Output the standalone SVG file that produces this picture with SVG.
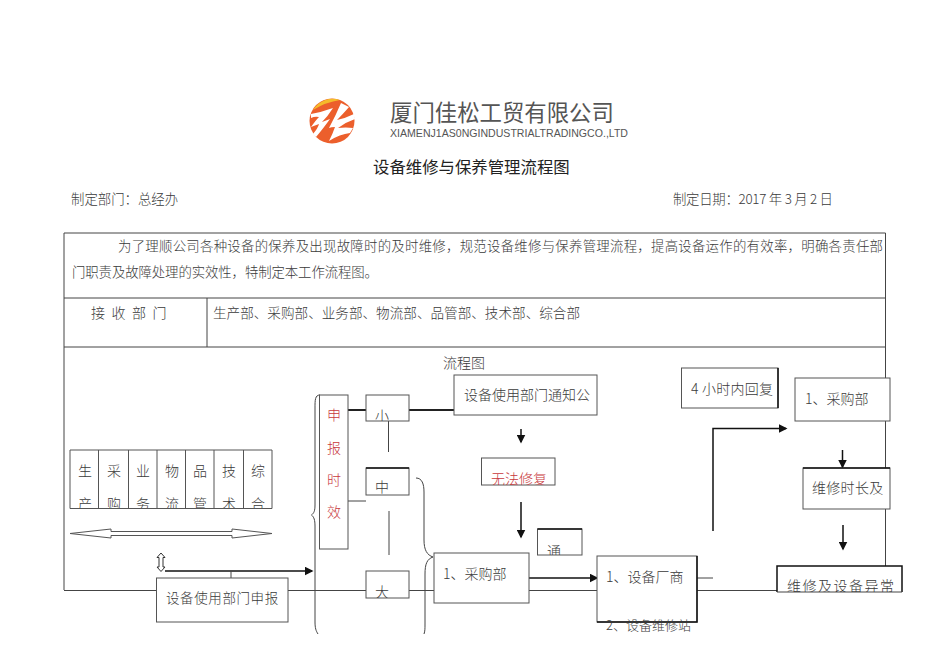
<svg xmlns="http://www.w3.org/2000/svg" width="950" height="672" viewBox="0 0 950 672">
<style>
text{font-family:"Noto Sans CJK SC","Liberation Sans",sans-serif;font-size:14px;fill:#3a3a3a;font-weight:300}
.r{fill:#c8383c}
.c{text-anchor:middle}
.b{fill:#fff;stroke:#555;stroke-width:1}
.l{fill:none;stroke:#444;stroke-width:1}
.k{fill:none;stroke:#111;stroke-width:1.5}
.t{fill:none;stroke:#222;stroke-width:2}
</style>
<defs>
<marker id="a" markerWidth="6" markerHeight="6" refX="5" refY="3" orient="auto"><path d="M0 0L6 3L0 6Z" fill="#111"/></marker>
<clipPath id="c1"><rect x="70" y="450" width="202" height="58"/></clipPath>
<clipPath id="c2"><rect x="366" y="395" width="43" height="26"/></clipPath>
<clipPath id="c3"><rect x="366" y="571" width="43" height="27"/></clipPath>
<clipPath id="c4"><rect x="481" y="458" width="74" height="27"/></clipPath>
<clipPath id="c5"><rect x="537" y="529" width="45" height="26"/></clipPath>
<clipPath id="c6"><rect x="777" y="566" width="125" height="26"/></clipPath>
</defs>
<rect width="950" height="672" fill="#fff"/>
<g id="logo">
<circle cx="332" cy="121" r="22.500" fill="#ec5f2c"/>
<path d="M313 110A23 23 0 0 1 340 100Q326 102 313 110Z" fill="#f5bb2a"/>
<path d="M311 114Q322 112 333 108Q328 116 322 122L330 119Q322 130 316 137L313 134Q318 128 319 124L311 127Q316 120 319 117Q315 116 311 118Z" fill="#fff"/>
<path d="M341 103L349 107Q342 115 337 120Q346 118 354 114L355 119Q346 122 338 128Q346 127 353 128L350 133Q340 134 329 141Q333 133 335 127Q331 127 329 128Q336 115 341 103Z" fill="#fff"/>
</g>
<g id="header">
<text x="390" y="121" style="font-size:22.400px;fill:#555;font-weight:400">厦门佳松工贸有限公司</text>
<text x="390" y="137" textLength="238" lengthAdjust="spacingAndGlyphs" style="font-family:'Liberation Sans',sans-serif;font-size:10.500px;fill:#555;font-weight:400">XIAMENJ1AS0NGINDUSTRIALTRADINGCO.,LTD</text>
<text x="373" y="173" style="font-size:16.400px;font-weight:400;fill:#222">设备维修与保养管理流程图</text>
<text x="71" y="204" style="font-size:13.400px">制定部门&#65306;总经办</text>
<text x="673" y="204" textLength="160" style="font-size:13.400px">制定日期&#65306;2017 年 3 月 2 日</text>
</g>
<g id="table">
<path class="l" d="M64 590V233H885.500V566M64 298H885.500M64 347H885.500M207 298V347M64 590.500H156M288 590.500H366M409 590.500H434M529 590.500H597M697 590.500H777"/>
<text x="118" y="251" textLength="765" style="font-size:13.400px">为了理顺公司各种设备的保养及出现故障时的及时维修&#65292;规范设备维修与保养管理流程&#65292;提高设备运作的有效率&#65292;明确各责任部</text>
<text x="72" y="277" textLength="306" style="font-size:13.400px">门职责及故障处理的实效性&#65292;特制定本工作流程图。</text>
<text x="91" y="318" letter-spacing="6.500">接收部门</text>
<text x="213" y="318" textLength="367" style="font-size:13.600px">生产部、采购部、业务部、物流部、品管部、技术部、综合部</text>
<text x="443" y="368">流程图</text>
</g>
<g id="departments">
<path class="b" d="M70 450H272V508.500H70ZM98.500 450V508.500M128.500 450V508.500M157 450V508.500M185.500 450V508.500M214 450V508.500M243.500 450V508.500"/>
<g clip-path="url(#c1)">
<text x="85" y="476" class="c">生</text><text x="85" y="509" class="c">产</text>
<text x="114" y="476" class="c">采</text><text x="114" y="509" class="c">购</text>
<text x="143" y="476" class="c">业</text><text x="143" y="509" class="c">务</text>
<text x="172" y="476" class="c">物</text><text x="172" y="509" class="c">流</text>
<text x="200" y="476" class="c">品</text><text x="200" y="509" class="c">管</text>
<text x="229" y="476" class="c">技</text><text x="229" y="509" class="c">术</text>
<text x="258" y="476" class="c">综</text><text x="258" y="509" class="c">合</text>
</g>
</g>
<g id="connectors">
<path d="M70 533.500L111 529V531.500H232V529L272 533.500L232 538V535.500H111V538Z" fill="#fff" stroke="#555"/>
<path d="M161 553L165 557.500H163V567H165L161 571.500L157 567H159V557.500H157Z" fill="#fff" stroke="#333"/>
<path class="k" d="M165 571H312" marker-end="url(#a)"/>
<path class="l" d="M231 571V578"/>
<path class="l" d="M320 395C315 395 315 400 315 408V505C315 511 314 513 311.500 515C314 517 315 520 315 526V622C315 628 316 631 318 634"/>
<path class="t" d="M348 410H366M409 410H454"/>
<path class="l" d="M388.500 421V452M348 501H366M389 511V555"/>
<path class="l" d="M416 478C422 478 424 484 424 492V540C424 550 427 555 433 557C427 559 425 564 425 574V624C425 629 425 631 424 634"/>
<path class="k" d="M521 429V442" marker-end="url(#a)"/>
<path class="k" d="M521 502V537" marker-end="url(#a)"/>
<path class="k" d="M529 578H597" marker-end="url(#a)"/>
<path class="l" d="M697 578H713"/>
<path class="k" d="M713 531V428.500H786" marker-end="url(#a)"/>
<path class="k" d="M842.500 450V467" marker-end="url(#a)"/>
<path class="k" d="M843 525V549" marker-end="url(#a)"/>
</g>
<g id="n-report"><rect class="b" x="156.500" y="578" width="131.500" height="44"/><text x="166" y="603" style="font-size:13.500px" letter-spacing="0.600">设备使用部门申报</text></g>
<g id="n-timing"><rect class="b" x="319.500" y="395" width="28.500" height="154"/>
<text class="r c" x="334" y="420">申</text><text class="r c" x="334" y="453">报</text><text class="r c" x="334" y="485">时</text><text class="r c" x="334" y="517">效</text></g>
<g id="n-small"><rect class="b" x="366" y="395" width="43" height="26"/><text class="c" x="382" y="421" clip-path="url(#c2)">小</text></g>
<g id="n-medium"><rect class="b" x="366" y="468" width="43" height="27"/><path class="k" d="M366 468H409"/><text class="c" x="382" y="492">中</text></g>
<g id="n-large"><rect class="b" x="366" y="571" width="43" height="27"/><text class="c" x="382" y="597" clip-path="url(#c3)">大</text></g>
<g id="n-notify"><rect class="b" x="454" y="375" width="143" height="40"/><text x="464" y="400">设备使用部门通知公</text></g>
<g id="n-unfixable"><rect class="b" x="481.500" y="458" width="73.500" height="27"/><text class="r" x="491" y="484" clip-path="url(#c4)">无法修复</text></g>
<g id="n-tong"><rect class="b" x="537.500" y="529" width="44.500" height="26"/><path class="k" d="M537.500 529H582"/><text x="547" y="556" clip-path="url(#c5)">通</text></g>
<g id="n-purchase"><rect class="b" x="434" y="553" width="95" height="50"/><text x="443" y="579">1、采购部</text></g>
<g id="n-vendor"><rect class="b" x="597" y="556" width="100" height="66"/><path class="k" d="M697 556V622H597"/><text x="606" y="582">1、设备厂商</text><text x="606" y="630" style="font-size:13px">2、设备维修站</text></g>
<g id="n-4h"><rect class="b" x="681.500" y="368" width="96.500" height="40"/><path class="k" d="M778 368V408"/><text x="691" y="394" textLength="82">4 小时内回复</text></g>
<g id="n-purchase2"><rect class="b" x="795" y="378" width="95" height="43"/><text x="805" y="404">1、采购部</text></g>
<g id="n-duration"><rect class="b" x="803" y="468" width="87" height="41"/><path class="k" d="M803 468H890"/><text x="812" y="493" letter-spacing="0.300">维修时长及</text></g>
<g id="n-anomaly"><path d="M777 592V566H902V592" fill="#fff" stroke="#111" stroke-width="1.500"/><path class="l" d="M777 592H902"/><text x="787" y="591" letter-spacing="1.500" clip-path="url(#c6)">维修及设备异常</text></g>
</svg>
